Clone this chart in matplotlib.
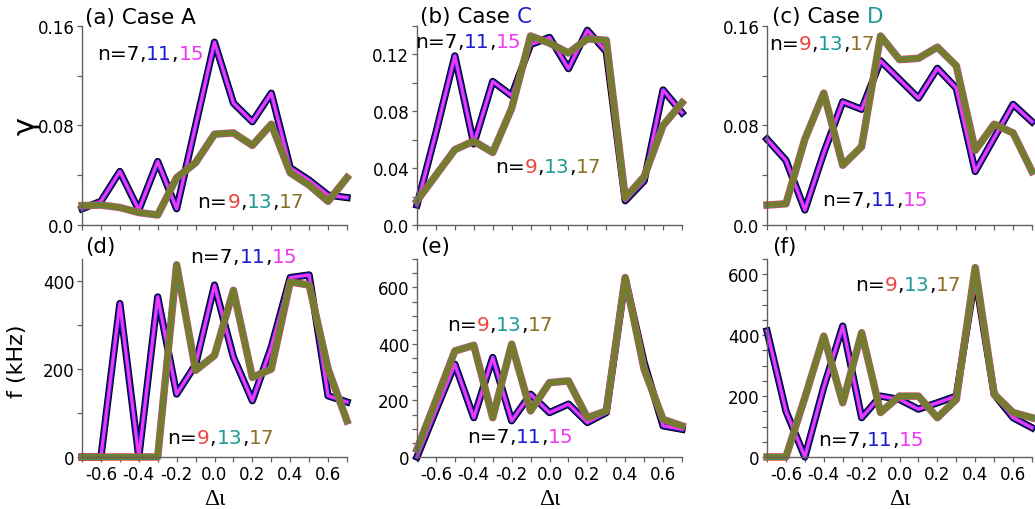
import matplotlib
matplotlib.use('Agg')
import matplotlib.pyplot as plt
from matplotlib.ticker import MultipleLocator, FuncFormatter
from matplotlib.offsetbox import TextArea, HPacker, AnnotationBbox

plt.rcParams['font.family'] = ['DejaVu Sans']
plt.rcParams['axes.unicode_minus'] = False

# ── data ──────────────────────────────────────────────────────────────
d_iota = [-0.7, -0.6, -0.5, -0.4, -0.3, -0.2, -0.1, 0.0, 0.1, 0.2, 0.3, 0.4, 0.5, 0.6, 0.7]

# growth rate gamma, n=7,11,15 ("odd") and n=9,13,17 ("even")
gam_a_odd  = [0.013, 0.019, 0.043, 0.012, 0.051, 0.013, 0.080, 0.147, 0.098, 0.083, 0.106, 0.046, 0.036, 0.024, 0.022]
gam_a_even = [0.0155, 0.016, 0.014, 0.010, 0.008, 0.038, 0.050, 0.073, 0.074, 0.064, 0.081, 0.042, 0.032, 0.019, 0.038]
gam_b_odd  = [0.014, 0.065, 0.119, 0.057, 0.101, 0.091, 0.127, 0.132, 0.110, 0.137, 0.122, 0.017, 0.031, 0.095, 0.079]
gam_b_even = [0.017, 0.035, 0.053, 0.059, 0.051, 0.082, 0.133, 0.128, 0.121, 0.131, 0.130, 0.019, 0.034, 0.070, 0.086]
gam_c_odd  = [0.069, 0.052, 0.012, 0.058, 0.099, 0.093, 0.132, 0.117, 0.102, 0.126, 0.110, 0.043, 0.070, 0.097, 0.083]
gam_c_even = [0.016, 0.017, 0.069, 0.106, 0.048, 0.063, 0.152, 0.133, 0.134, 0.143, 0.128, 0.060, 0.081, 0.074, 0.043]

# frequency f (kHz)
f_d_odd  = [0, 0, 349, 0, 364, 143, 210, 391, 227, 128, 250, 408, 414, 139, 125]
f_d_even = [0, 0, 0, 0, 0, 437, 197, 231, 379, 181, 200, 398, 391, 200, 82]
f_e_odd  = [0, 165, 328, 139, 352, 128, 222, 157, 187, 122, 157, 630, 334, 110, 98]
f_e_even = [27, 200, 375, 395, 139, 399, 163, 263, 269, 139, 163, 635, 310, 133, 110]
f_f_odd  = [414, 151, 0, 230, 430, 129, 200, 189, 157, 178, 200, 595, 206, 129, 96]
f_f_even = [0, 0, 195, 397, 178, 408, 146, 200, 200, 129, 189, 622, 206, 146, 129]

c7, c11, c15 = '#000000', '#1c1cd0', '#f03cf0'
c9, c13, c17 = '#e8473d', '#1f9a96', '#7a7a28'
c17_txt = '#8a7126'

odd_lab = [('n=7', c7), (',', c7), ('11', c11), (',', c7), ('15', c15)]
even_lab = [('n=', c7), ('9', c9), (',', c7), ('13', c13), (',', c7), ('17', c17_txt)]


def rich(ax, x, y, parts, size=14.5):
    boxes = [TextArea(s, textprops=dict(color=c, fontsize=size)) for s, c in parts]
    pack = HPacker(children=boxes, align='baseline', pad=0, sep=0)
    ab = AnnotationBbox(pack, (x, y), xycoords='axes fraction', box_alignment=(0, 0.5),
                        frameon=False, pad=0, annotation_clip=False)
    ax.add_artist(ab)


def draw(ax, odd, even):
    for col, lw in [(c7, 5.2), (c11, 3.8), (c15, 2.2)]:
        ax.plot(d_iota, odd, color=col, lw=lw, clip_on=False, solid_joinstyle='round')
    for col, lw in [(c9, 5.4), (c13, 4.4), (c17, 3.6)]:
        ax.plot(d_iota, even, color=col, lw=lw, clip_on=False, solid_joinstyle='round')


fig = plt.figure(figsize=(10.35, 5.10), dpi=100)
lefts = [82 / 1035, 417 / 1035, 767 / 1035]
w = 265 / 1035
axs_top = [fig.add_axes([l, 0.557, w, 0.390]) for l in lefts]
axs_bot = [fig.add_axes([l, 0.102, w, 0.388]) for l in lefts]

draw(axs_top[0], gam_a_odd, gam_a_even)
draw(axs_top[1], gam_b_odd, gam_b_even)
draw(axs_top[2], gam_c_odd, gam_c_even)
draw(axs_bot[0], f_d_odd, f_d_even)
draw(axs_bot[1], f_e_odd, f_e_even)
draw(axs_bot[2], f_f_odd, f_f_even)

gfmt = FuncFormatter(lambda v, p: '0.0' if abs(v) < 1e-9 else f'{v:.2f}')
ffmt = FuncFormatter(lambda v, p: f'{v:.0f}')
top_lims = [(0.16, 0.08, 0.04), (0.14, 0.04, 0.02), (0.16, 0.08, 0.04)]
bot_lims = [(450, 200, 100), (700, 200, 50), (650, 200, 50)]

for i, ax in enumerate(axs_top + axs_bot):
    ax.set_xlim(-0.7, 0.7)
    ax.set_xticks([-0.6, -0.4, -0.2, 0.0, 0.2, 0.4, 0.6])
    ax.xaxis.set_minor_locator(MultipleLocator(0.1))
    for s in ['top', 'right']:
        ax.spines[s].set_visible(False)
    for s in ['left', 'bottom']:
        ax.spines[s].set_color('#606060')
        ax.spines[s].set_linewidth(1.0)
    ax.tick_params(which='both', direction='out', length=3.5, width=0.9,
                   color='#606060', labelsize=12, pad=2)
    if i < 3:
        top, maj, mnr = top_lims[i]
        ax.set_ylim(0, top)
        ax.yaxis.set_major_locator(MultipleLocator(maj))
        ax.yaxis.set_minor_locator(MultipleLocator(mnr))
        ax.yaxis.set_major_formatter(gfmt)
        ax.tick_params(axis='x', labelbottom=False)
    else:
        top, maj, mnr = bot_lims[i - 3]
        ax.set_ylim(0, top)
        ax.yaxis.set_major_locator(MultipleLocator(maj))
        ax.yaxis.set_minor_locator(MultipleLocator(mnr))
        ax.yaxis.set_major_formatter(ffmt)
        ax.set_xticklabels(['-0.6', '-0.4', '-0.2', '0.0', '0.2', '0.4', '0.6'])
        ax.set_xlabel('Δι', fontfamily='Liberation Serif', fontsize=17, labelpad=4)

# panel titles
rich(axs_top[0], 0.011, 1.045, [('(a) Case A', c7)], 15.5)
rich(axs_top[1], 0.011, 1.05, [('(b) Case ', c7), ('C', c11)], 15.5)
rich(axs_top[2], 0.019, 1.05, [('(c) Case ', c7), ('D', c13)], 15.5)
rich(axs_bot[0], 0.011, 1.068, [('(d)', c7)], 15.5)
rich(axs_bot[1], 0.011, 1.068, [('(e)', c7)], 15.5)
rich(axs_bot[2], 0.019, 1.068, [('(f)', c7)], 15.5)

# mode labels
rich(axs_top[0], 0.057, 0.864, odd_lab)
rich(axs_top[0], 0.436, 0.12, even_lab)
rich(axs_top[1], -0.008, 0.92, odd_lab)
rich(axs_top[1], 0.293, 0.293, even_lab)
rich(axs_top[2], 0.008, 0.914, even_lab)
rich(axs_top[2], 0.207, 0.126, odd_lab)
rich(axs_bot[0], 0.409, 1.015, odd_lab)
rich(axs_bot[0], 0.322, 0.10, even_lab)
rich(axs_bot[1], 0.113, 0.67, even_lab)
rich(axs_bot[1], 0.188, 0.105, odd_lab)
rich(axs_bot[2], 0.331, 0.873, even_lab)
rich(axs_bot[2], 0.192, 0.09, odd_lab)

fig.text(26 / 1035, 1 - 126 / 510, 'γ', fontsize=22, rotation=90, ha='center', va='center')
fig.text(17 / 1035, 1 - 361 / 510, 'f (kHz)', fontsize=16, rotation=90, ha='center', va='center')

fig.savefig('out.png', dpi=100)
